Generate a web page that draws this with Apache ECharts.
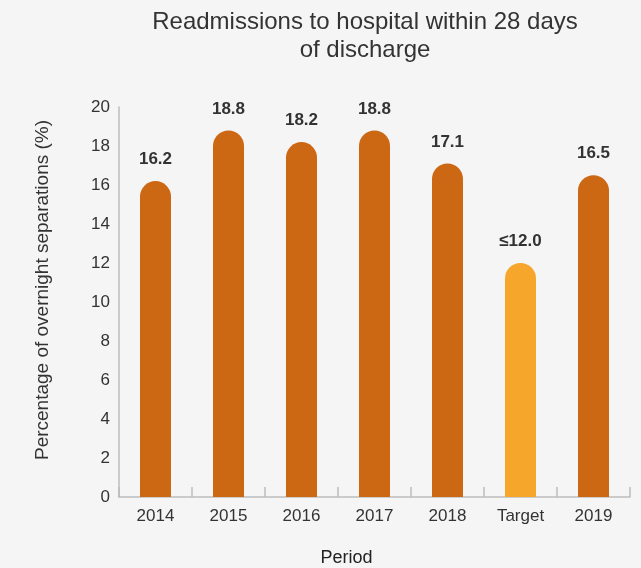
<!DOCTYPE html>
<html>
<head>
<meta charset="utf-8">
<script src="https://cdn.jsdelivr.net/npm/echarts@6/dist/echarts.min.js"></script>
<style>
html,body{margin:0;padding:0;background:#f5f5f5;}
#chart{width:641px;height:568px;}
</style>
</head>
<body>
<div id="chart"></div>
<script>
const categories = ['2014', '2015', '2016', '2017', '2018', 'Target', '2019'];
const values = [16.2, 18.8, 18.2, 18.8, 17.1, 12.0, 16.5];
const valueLabels = ['16.2', '18.8', '18.2', '18.8', '17.1', '≤12.0', '16.5'];
const barColors = ['#cc6714', '#cc6714', '#cc6714', '#cc6714', '#cc6714', '#f6a72b', '#cc6714'];
const yTicks = [0, 2, 4, 6, 8, 10, 12, 14, 16, 18, 20];

const chart = echarts.init(document.getElementById('chart'), null, {renderer: 'canvas'});
const font = 'Liberation Sans, Arial, sans-serif';
chart.setOption({
  backgroundColor: '#f5f5f5',
  animation: false,
  title: {
    text: 'Readmissions to hospital within 28 days\nof discharge',
    left: 360,
    top: 3,
    textAlign: 'center',
    textStyle: {fontFamily: font, fontSize: 24, fontWeight: 'normal', color: '#333', lineHeight: 28}
  },
  grid: {left: 119, right: 11, top: 107, bottom: 71, outerBoundsMode: 'none', containLabel: false},
  xAxis: {
    type: 'category',
    data: categories,
    name: 'Period',
    nameLocation: 'middle',
    nameGap: 52,
    nameTextStyle: {fontFamily: font, fontSize: 18, color: '#222', padding: [0, 56, 0, 0]},
    axisLine: {lineStyle: {color: '#bdbdbd', width: 1.5}},
    axisTick: {show: true, inside: true, length: 10, lineStyle: {color: '#bdbdbd', width: 1.5}},
    axisLabel: {fontFamily: font, fontSize: 17, color: '#333', margin: 11}
  },
  yAxis: {
    type: 'value',
    min: yTicks[0],
    max: yTicks[yTicks.length - 1],
    interval: 2,
    name: 'Percentage of overnight separations (%)',
    nameLocation: 'middle',
    nameGap: 67,
    nameTextStyle: {fontFamily: font, fontSize: 19, color: '#333', padding: [0, 0, 0, 24]},
    axisLine: {show: true, lineStyle: {color: '#bdbdbd', width: 1.5}},
    axisTick: {show: false},
    splitLine: {show: false},
    axisLabel: {fontFamily: font, fontSize: 17, color: '#333', margin: 9}
  },
  series: [{
    type: 'bar',
    barWidth: 31,
    data: values.map((v, i) => ({value: v, itemStyle: {color: barColors[i]}})),
    itemStyle: {borderRadius: [15.5, 15.5, 0, 0]},
    label: {
      show: true,
      position: 'top',
      distance: 13,
      fontFamily: font,
      fontSize: 17,
      fontWeight: 'bold',
      color: '#333',
      formatter: p => valueLabels[p.dataIndex]
    }
  }]
});
</script>
</body>
</html>
